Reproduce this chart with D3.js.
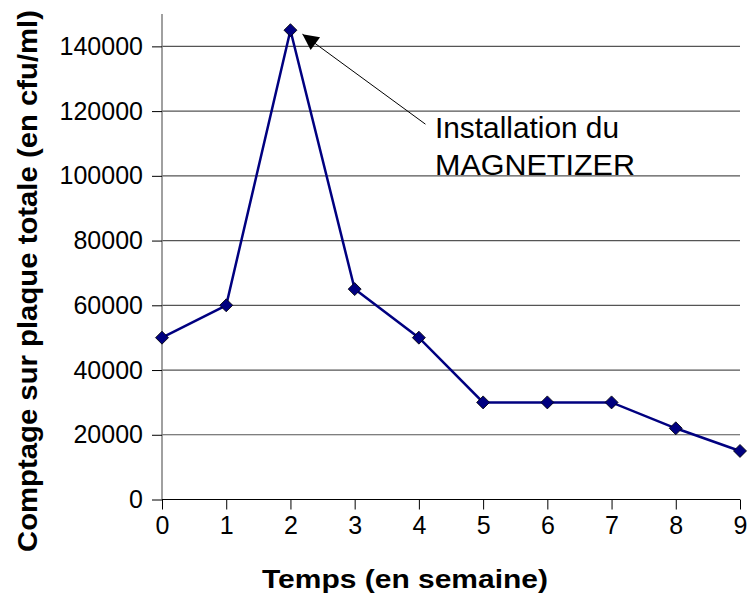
<!DOCTYPE html>
<html lang="fr">
<head>
<meta charset="UTF-8">
<title>Comptage sur plaque totale</title>
<script src="https://cdnjs.cloudflare.com/ajax/libs/d3/7.8.5/d3.min.js"></script>
<style>
  body { margin: 0; background: #fff; font-family: "Liberation Sans", Arial, sans-serif; }
</style>
</head>
<body>
<div id="chart"></div>
<script>
// data
const weeks = [0, 1, 2, 3, 4, 5, 6, 7, 8, 9];
const counts = [50000, 60000, 145000, 65000, 50000, 30000, 30000, 30000, 22000, 15000];
const yTicks = [0, 20000, 40000, 60000, 80000, 100000, 120000, 140000];
const noteLines = ["Installation du", "MAGNETIZER"];
const noteWidths = [184, 200];

const width = 749, height = 600;
const plotLeft = 162, plotRight = 740, plotTop = 14, plotBottom = 499.5;

const svg = d3.select("#chart").append("svg")
  .attr("width", width).attr("height", height);

const x = d3.scaleLinear().domain([0, 9]).range([plotLeft, plotRight]);
const y = d3.scaleLinear().domain([0, 150000]).range([plotBottom, plotTop]);

// horizontal grid
svg.append("g").selectAll("line")
  .data(yTicks.filter(d => d > 0))
  .join("line")
  .attr("x1", plotLeft).attr("x2", plotRight)
  .attr("y1", d => y(d)).attr("y2", d => y(d))
  .attr("stroke", "#555").attr("stroke-width", 1.2);

// y axis
const yAxis = svg.append("g")
  .attr("transform", `translate(${plotLeft},0)`)
  .call(d3.axisLeft(y).tickValues(yTicks).tickSize(10).tickPadding(9).tickFormat(d3.format("d")));
yAxis.select(".domain").attr("stroke", "#808080").attr("stroke-width", 1.5)
  .attr("d", `M0,${plotTop}V${plotBottom}`);
yAxis.selectAll(".tick line").attr("stroke", "#000");
yAxis.selectAll("text").attr("font-size", 25).attr("fill", "#000")
  .attr("font-family", "Liberation Sans, Arial, sans-serif");

// x axis
const xAxis = svg.append("g")
  .attr("transform", `translate(0,${plotBottom})`)
  .call(d3.axisBottom(x).tickValues(weeks).tickSize(10).tickPadding(7).tickFormat(d3.format("d")));
xAxis.select(".domain").attr("stroke", "#000").attr("stroke-width", 1.2)
  .attr("d", `M${plotLeft},0H${plotRight}`);
xAxis.selectAll(".tick line").attr("stroke", "#000");
xAxis.selectAll("text").attr("font-size", 25).attr("fill", "#000")
  .attr("font-family", "Liberation Sans, Arial, sans-serif");

// series
const pts = weeks.map((w, i) => ({ w, v: counts[i] }));
svg.append("path")
  .datum(pts)
  .attr("fill", "none")
  .attr("stroke", "#000080")
  .attr("stroke-width", 2.5)
  .attr("d", d3.line().x(d => x(d.w)).y(d => y(d.v)));

const s = 6.5;
svg.append("g").selectAll("path")
  .data(pts)
  .join("path")
  .attr("d", `M0,${-s}L${s},0L0,${s}L${-s},0Z`)
  .attr("transform", d => `translate(${x(d.w)},${y(d.v)})`)
  .attr("fill", "#000080")
  .attr("stroke", "#000")
  .attr("stroke-width", 0.8);

// annotation
svg.append("defs").append("marker")
  .attr("id", "head")
  .attr("viewBox", "0 0 10 10")
  .attr("refX", 10).attr("refY", 5)
  .attr("markerWidth", 22).attr("markerHeight", 16)
  .attr("markerUnits", "userSpaceOnUse")
  .attr("orient", "auto")
  .append("path").attr("d", "M0,0L10,5L0,10Z").attr("fill", "#000");

const peak = pts[2];
svg.append("line")
  .attr("x1", x(peak.w) + 135).attr("y1", y(peak.v) + 94)
  .attr("x2", x(peak.w) + 12).attr("y2", y(peak.v) + 4)
  .attr("stroke", "#000").attr("stroke-width", 1)
  .attr("marker-end", "url(#head)");

svg.append("g").selectAll("text")
  .data(noteLines)
  .join("text")
  .attr("x", 435)
  .attr("y", (d, i) => 138 + i * 36.5)
  .attr("font-size", 29)
  .attr("textLength", (d, i) => noteWidths[i])
  .attr("lengthAdjust", "spacingAndGlyphs")
  .text(d => d);

// axis titles
svg.append("text")
  .attr("x", 262).attr("y", 588)
  .attr("font-weight", "bold").attr("font-size", 25)
  .attr("textLength", 286).attr("lengthAdjust", "spacingAndGlyphs")
  .text("Temps (en semaine)");

svg.append("text")
  .attr("transform", "translate(37,552) rotate(-90)")
  .attr("font-weight", "bold").attr("font-size", 27)
  .attr("textLength", 542).attr("lengthAdjust", "spacingAndGlyphs")
  .text("Comptage sur plaque totale (en cfu/ml)");
</script>
</body>
</html>
